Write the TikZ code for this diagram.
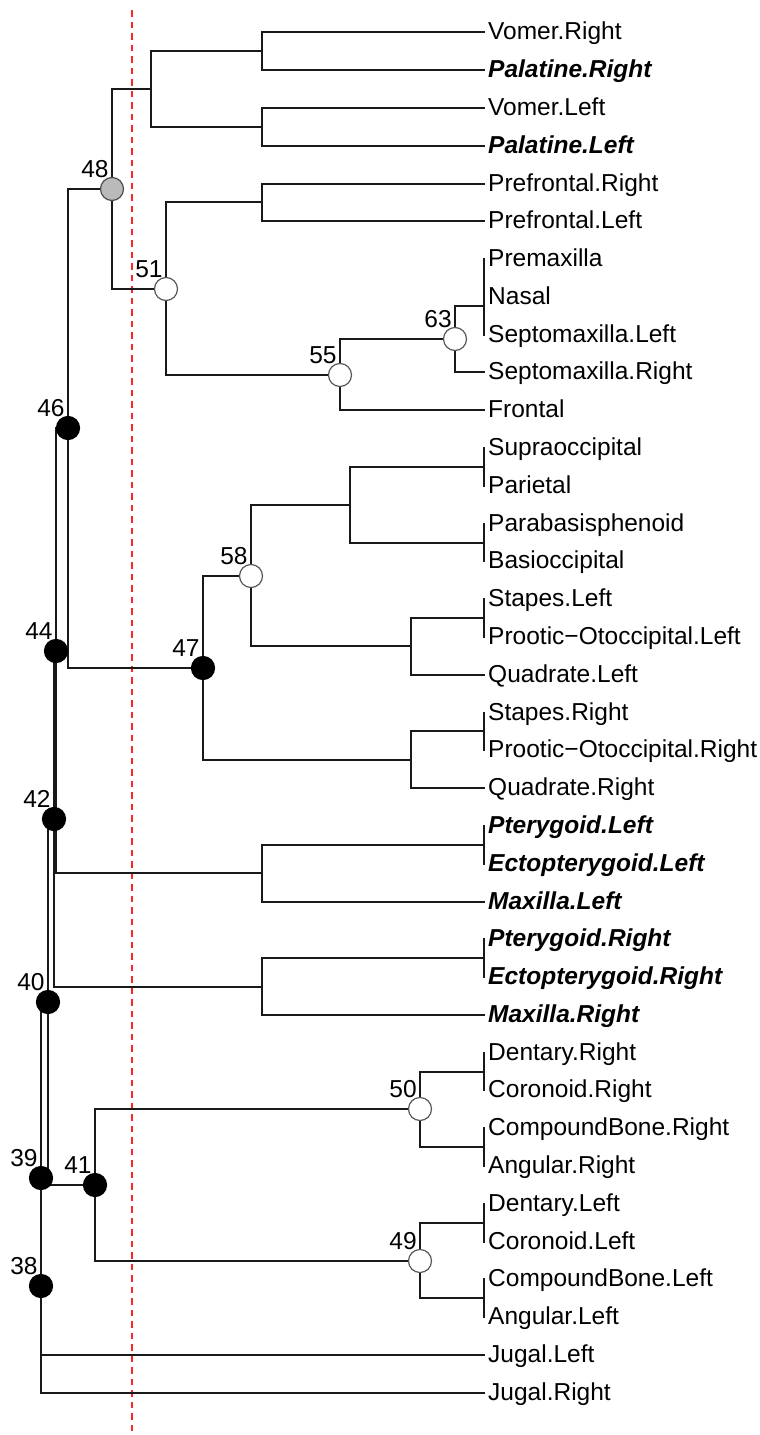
\documentclass[tikz,border=0pt]{standalone}
\usepackage{fontspec}
\setmainfont{Liberation Sans}
\usetikzlibrary{calc}
\begin{document}
\begin{tikzpicture}[x=1pt,y=-1pt,
  branch/.style={line width=2pt,draw=black!90,line cap=rect},
  tiplabel/.style={anchor=base west,inner sep=0pt,text=black,font=\fontsize{24.5}{28}\selectfont},
  boldtip/.style={tiplabel,font=\fontsize{24.5}{28}\selectfont\bfseries\itshape},
  nodenum/.style={anchor=base,inner sep=0pt,text=black,font=\fontsize{24.5}{28}\selectfont},
  dot/.style={circle,minimum size=23pt,inner sep=0pt,line width=1.2pt},
  blackdot/.style={dot,fill=black,draw=black},
  graydot/.style={dot,fill=black!27,draw=black!70},
  whitedot/.style={dot,fill=white,draw=black!65},
  cutline/.style={draw=red!85!white,line width=2pt,dash pattern=on 6.5pt off 5pt}
]
\useasboundingbox (0,0) rectangle (760,1435);

% ---- tips ----
\coordinate (L1) at (484,32);    \node[tiplabel] (txt1) at (488,39) {Vomer.Right};
\coordinate (L2) at (484,70);    \node[boldtip]  (txt2) at (488,77) {Palatine.Right};
\coordinate (L3) at (484,108);   \node[tiplabel] (txt3) at (488,115) {Vomer.Left};
\coordinate (L4) at (484,146);   \node[boldtip]  (txt4) at (488,153) {Palatine.Left};
\coordinate (L5) at (484,184);   \node[tiplabel] (txt5) at (488,191) {Prefrontal.Right};
\coordinate (L6) at (484,221);   \node[tiplabel] (txt6) at (488,228) {Prefrontal.Left};
\coordinate (L7) at (484,259);   \node[tiplabel] (txt7) at (488,266) {Premaxilla};
\coordinate (L8) at (484,297);   \node[tiplabel] (txt8) at (488,304) {Nasal};
\coordinate (L9) at (484,335);   \node[tiplabel] (txt9) at (488,342) {Septomaxilla.Left};
\coordinate (L10) at (484,372);  \node[tiplabel] (txt10) at (488,379) {Septomaxilla.Right};
\coordinate (L11) at (484,410);  \node[tiplabel] (txt11) at (488,417) {Frontal};
\coordinate (L12) at (484,448);  \node[tiplabel] (txt12) at (488,455) {Supraoccipital};
\coordinate (L13) at (484,486);  \node[tiplabel] (txt13) at (488,493) {Parietal};
\coordinate (L14) at (484,524);  \node[tiplabel] (txt14) at (488,531) {Parabasisphenoid};
\coordinate (L15) at (484,561);  \node[tiplabel] (txt15) at (488,568) {Basioccipital};
\coordinate (L16) at (484,599);  \node[tiplabel] (txt16) at (488,606) {Stapes.Left};
\coordinate (L17) at (484,637);  \node[tiplabel] (txt17) at (488,644) {Prootic−Otoccipital.Left};
\coordinate (L18) at (484,675);  \node[tiplabel] (txt18) at (488,682) {Quadrate.Left};
\coordinate (L19) at (484,713);  \node[tiplabel] (txt19) at (488,720) {Stapes.Right};
\coordinate (L20) at (484,750);  \node[tiplabel] (txt20) at (488,757) {Prootic−Otoccipital.Right};
\coordinate (L21) at (484,788);  \node[tiplabel] (txt21) at (488,795) {Quadrate.Right};
\coordinate (L22) at (484,826);  \node[boldtip]  (txt22) at (488,833) {Pterygoid.Left};
\coordinate (L23) at (484,864);  \node[boldtip]  (txt23) at (488,871) {Ectopterygoid.Left};
\coordinate (L24) at (484,902);  \node[boldtip]  (txt24) at (488,909) {Maxilla.Left};
\coordinate (L25) at (484,939);  \node[boldtip]  (txt25) at (488,946) {Pterygoid.Right};
\coordinate (L26) at (484,977);  \node[boldtip]  (txt26) at (488,984) {Ectopterygoid.Right};
\coordinate (L27) at (484,1015); \node[boldtip]  (txt27) at (488,1022) {Maxilla.Right};
\coordinate (L28) at (484,1053); \node[tiplabel] (txt28) at (488,1060) {Dentary.Right};
\coordinate (L29) at (484,1090); \node[tiplabel] (txt29) at (488,1097) {Coronoid.Right};
\coordinate (L30) at (484,1128); \node[tiplabel] (txt30) at (488,1135) {CompoundBone.Right};
\coordinate (L31) at (484,1166); \node[tiplabel] (txt31) at (488,1173) {Angular.Right};
\coordinate (L32) at (484,1204); \node[tiplabel] (txt32) at (488,1211) {Dentary.Left};
\coordinate (L33) at (484,1242); \node[tiplabel] (txt33) at (488,1249) {Coronoid.Left};
\coordinate (L34) at (484,1279); \node[tiplabel] (txt34) at (488,1286) {CompoundBone.Left};
\coordinate (L35) at (484,1317); \node[tiplabel] (txt35) at (488,1324) {Angular.Left};
\coordinate (L36) at (484,1355); \node[tiplabel] (txt36) at (488,1362) {Jugal.Left};
\coordinate (L37) at (484,1393); \node[tiplabel] (txt37) at (488,1400) {Jugal.Right};

% ---- internal nodes ----
\coordinate (vr) at (262,51);
\coordinate (vl) at (262,127);
\coordinate (vp) at (151,89);
\coordinate (pf) at (262,202);
\coordinate (pn) at (484,278);
\coordinate (pns) at (484,306);
\coordinate (n63) at (455,339);
\coordinate (n55) at (340,375);
\coordinate (n51) at (166,289);
\coordinate (n48) at (112,189);
\coordinate (sp) at (484,467);
\coordinate (pb) at (484,543);
\coordinate (braincase) at (350,505);
\coordinate (spl) at (484,618);
\coordinate (otl) at (411,646);
\coordinate (n58) at (251,576);
\coordinate (spr) at (484,731);
\coordinate (otr) at (411,760);
\coordinate (n47) at (203,668);
\coordinate (n46) at (68,428);
\coordinate (pel) at (484,845);
\coordinate (pml) at (262,873);
\coordinate (n44) at (56,651);
\coordinate (per) at (484,958);
\coordinate (pmr) at (262,987);
\coordinate (n42) at (54,819);
\coordinate (dcr) at (484,1072);
\coordinate (car) at (484,1147);
\coordinate (n50) at (420,1109);
\coordinate (dcl) at (484,1223);
\coordinate (cal) at (484,1298);
\coordinate (n49) at (420,1261);
\coordinate (n41) at (95,1185);
\coordinate (n40) at (48,1002);
\coordinate (n39) at (41,1178);
\coordinate (n38) at (41,1286);

% ---- cut level ----
\coordinate (cuttop) at (132,10);
\coordinate (cutbot) at (132,1435);
\draw[cutline] (cuttop) -- (cutbot);

% ---- branches ----
\begin{scope}[branch]
\draw (n38) |- (n39);  \draw (n38) |- (L37);
\draw (n39) |- (n40);  \draw (n39) |- (L36);
\draw (n40) |- (n42);  \draw (n40) |- (n41);
\draw (n42) |- (n44);  \draw (n42) |- (pmr);
\draw (n44) |- (n46);  \draw (n44) |- (pml);
\draw (n46) |- (n48);  \draw (n46) |- (n47);
\draw (n48) |- (vp);   \draw (n48) |- (n51);
\draw (vp) |- (vr);    \draw (vp) |- (vl);
\draw (vr) |- (L1);    \draw (vr) |- (L2);
\draw (vl) |- (L3);    \draw (vl) |- (L4);
\draw (n51) |- (pf);   \draw (n51) |- (n55);
\draw (pf) |- (L5);    \draw (pf) |- (L6);
\draw (n55) |- (n63);  \draw (n55) |- (L11);
\draw (n63) |- (pns);  \draw (n63) |- (L10);
\draw (pns) |- (pn);   \draw (pns) |- (L9);
\draw (pn) |- (L7);    \draw (pn) |- (L8);
\draw (n47) |- (n58);  \draw (n47) |- (otr);
\draw (n58) |- (braincase); \draw (n58) |- (otl);
\draw (braincase) |- (sp); \draw (braincase) |- (pb);
\draw (sp) |- (L12);   \draw (sp) |- (L13);
\draw (pb) |- (L14);   \draw (pb) |- (L15);
\draw (otl) |- (spl);  \draw (otl) |- (L18);
\draw (spl) |- (L16);  \draw (spl) |- (L17);
\draw (otr) |- (spr);  \draw (otr) |- (L21);
\draw (spr) |- (L19);  \draw (spr) |- (L20);
\draw (pml) |- (pel);  \draw (pml) |- (L24);
\draw (pel) |- (L22);  \draw (pel) |- (L23);
\draw (pmr) |- (per);  \draw (pmr) |- (L27);
\draw (per) |- (L25);  \draw (per) |- (L26);
\draw (n41) |- (n50);  \draw (n41) |- (n49);
\draw (n50) |- (dcr);  \draw (n50) |- (car);
\draw (dcr) |- (L28);  \draw (dcr) |- (L29);
\draw (car) |- (L30);  \draw (car) |- (L31);
\draw (n49) |- (dcl);  \draw (n49) |- (cal);
\draw (dcl) |- (L32);  \draw (dcl) |- (L33);
\draw (cal) |- (L34);  \draw (cal) |- (L35);
\end{scope}

% ---- node symbols ----
\node[graydot]  (d48) at (n48) {};
\node[whitedot] (d51) at (n51) {};
\node[whitedot] (d55) at (n55) {};
\node[whitedot] (d63) at (n63) {};
\node[whitedot] (d58) at (n58) {};
\node[whitedot] (d50) at (n50) {};
\node[whitedot] (d49) at (n49) {};
\node[blackdot] (d46) at (n46) {};
\node[blackdot] (d47) at (n47) {};
\node[blackdot] (d44) at (n44) {};
\node[blackdot] (d42) at (n42) {};
\node[blackdot] (d40) at (n40) {};
\node[blackdot] (d41) at (n41) {};
\node[blackdot] (d39) at (n39) {};
\node[blackdot] (d38) at (n38) {};

% ---- node numbers ----
\node[nodenum] (k48) at ($(n48)+(-17,-11.5)$) {48};
\node[nodenum] (k51) at ($(n51)+(-17,-11.5)$) {51};
\node[nodenum] (k55) at ($(n55)+(-17,-11.5)$) {55};
\node[nodenum] (k63) at ($(n63)+(-17,-11.5)$) {63};
\node[nodenum] (k58) at ($(n58)+(-17,-11.5)$) {58};
\node[nodenum] (k50) at ($(n50)+(-17,-11.5)$) {50};
\node[nodenum] (k49) at ($(n49)+(-17,-11.5)$) {49};
\node[nodenum] (k46) at ($(n46)+(-17,-11.5)$) {46};
\node[nodenum] (k47) at ($(n47)+(-17,-11.5)$) {47};
\node[nodenum] (k44) at ($(n44)+(-17,-11.5)$) {44};
\node[nodenum] (k42) at ($(n42)+(-17,-11.5)$) {42};
\node[nodenum] (k40) at ($(n40)+(-17,-11.5)$) {40};
\node[nodenum] (k41) at ($(n41)+(-17,-11.5)$) {41};
\node[nodenum] (k39) at ($(n39)+(-17,-11.5)$) {39};
\node[nodenum] (k38) at ($(n38)+(-17,-11.5)$) {38};
\end{tikzpicture}
\end{document}
